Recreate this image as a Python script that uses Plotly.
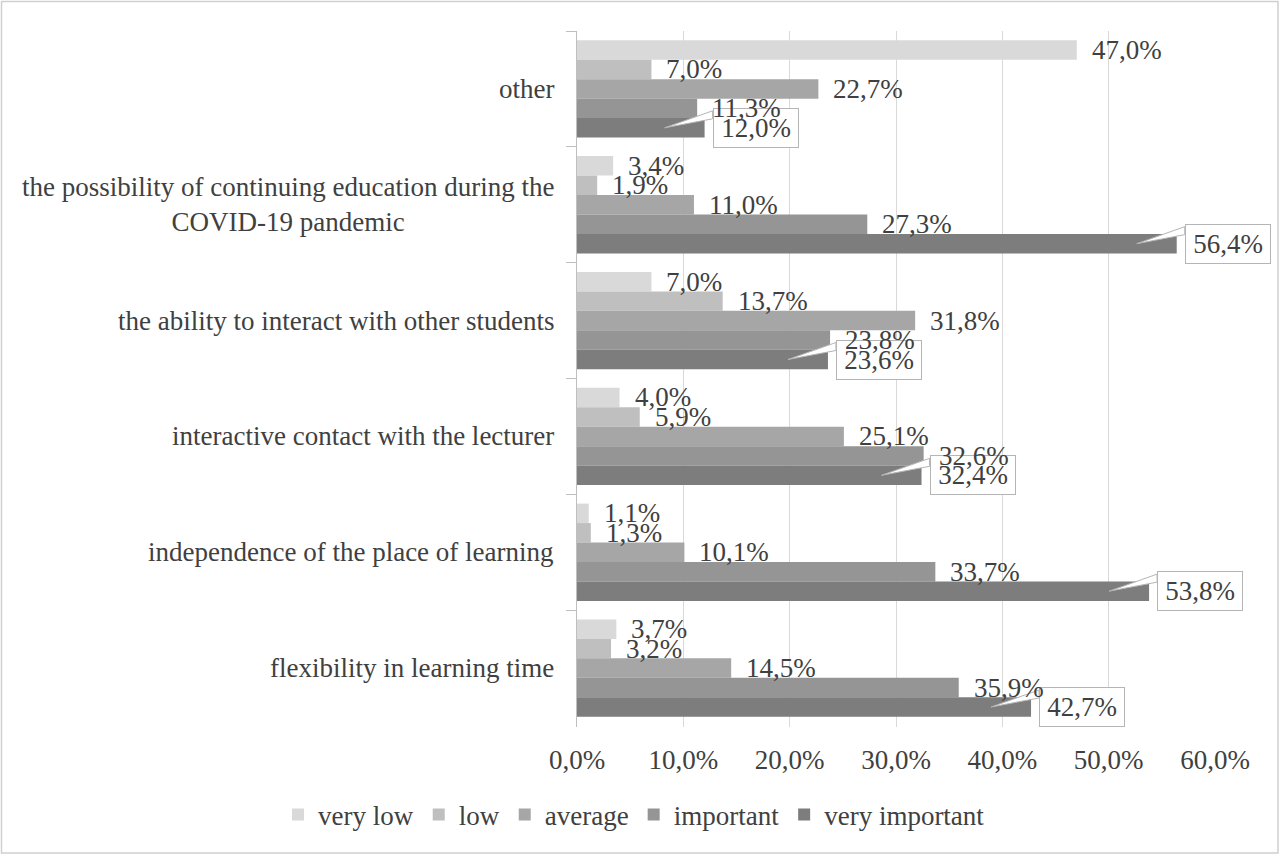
import plotly.graph_objects as go

categories = [
    "other",
    "the possibility of continuing education during the<br>COVID-19 pandemic",
    "the ability to interact with other students",
    "interactive contact with the lecturer",
    "independence of the place of learning",
    "flexibility in learning time",
]
series_names = ["very low", "low", "average", "important", "very important"]
very_low = [47.0, 3.4, 7.0, 4.0, 1.1, 3.7]
low = [7.0, 1.9, 13.7, 5.9, 1.3, 3.2]
average = [22.7, 11.0, 31.8, 25.1, 10.1, 14.5]
important = [11.3, 27.3, 23.8, 32.6, 33.7, 35.9]
very_important = [12.0, 56.4, 23.6, 32.4, 53.8, 42.7]
series_values = [very_low, low, average, important, very_important]
colors = ["#d9d9d9", "#bfbfbf", "#a6a6a6", "#959595", "#7d7d7d"]
tick_values = [0, 10, 20, 30, 40, 50, 60]
tick_labels = ["0,0%", "10,0%", "20,0%", "30,0%", "40,0%", "50,0%", "60,0%"]

W, H = 1280, 855
L, R, T, B = 577, 65, 31, 128
PW, PH = W - L - R, H - T - B
FONT = "Liberation Serif"
FS = 27
TXT = "#404040"
BARGAP = 0.16


def fmt(v):
    return f"{v:.1f}".replace(".", ",") + "%"


fig = go.Figure()
for name, vals, col in zip(series_names, series_values, colors):
    fig.add_trace(go.Bar(
        y=categories, x=vals, name=name, orientation="h",
        marker=dict(color=col, line=dict(width=0)), hoverinfo="skip",
    ))

w = 1 - BARGAP
n = len(series_names)
def offset(i):
    return -w / 2 + (i + 0.5) * w / n

annotations = []
shapes = []

# callouts for the last series
last = n - 1
for ci, v in enumerate(series_values[last]):
    yc = ci + offset(last)
    shapes.append(dict(
        type="path", xref="x", yref="y", xsizemode="pixel", ysizemode="pixel",
        xanchor=v, yanchor=yc, path="M -40,0 L 8,17 L 8,9 Z",
        fillcolor="white", line=dict(color="#b5b5b5", width=1), layer="above",
    ))
    annotations.append(dict(
        x=v, y=yc, xref="x", yref="y", xanchor="left", yanchor="middle",
        xshift=8, text=fmt(v), showarrow=False, bgcolor="white",
        bordercolor="#b5b5b5", borderwidth=1, borderpad=3, width=78, height=32,
        align="center", font=dict(family=FONT, size=FS, color=TXT),
    ))

# regular labels
for si in range(n - 1):
    for ci, v in enumerate(series_values[si]):
        annotations.append(dict(
            x=v, y=ci + offset(si), xref="x", yref="y", xanchor="left",
            yanchor="middle", xshift=13, text=fmt(v), showarrow=False,
            font=dict(family=FONT, size=FS, color=TXT),
        ))

# category labels
for ci, c in enumerate(categories):
    annotations.append(dict(
        x=0, y=ci, xref="paper", yref="y", xanchor="right", yanchor="middle",
        xshift=-21, text=c, showarrow=False, align="center",
        font=dict(family=FONT, size=FS, color=TXT),
    ))

# outer border
shapes.append(dict(
    type="rect", xref="paper", yref="paper",
    x0=(1.5 - L) / PW, x1=(W - 2 - L) / PW,
    y0=(H - B - (H - 2)) / PH, y1=(H - B - 1.5) / PH,
    line=dict(color="#d0d0d0", width=1.5), fillcolor="rgba(0,0,0,0)", layer="below",
))

fig.update_layout(
    width=W, height=H, margin=dict(l=L, r=R, t=T, b=B),
    barmode="group", bargap=BARGAP, bargroupgap=0,
    paper_bgcolor="white", plot_bgcolor="white",
    font=dict(family=FONT, size=FS, color=TXT),
    xaxis=dict(
        range=[0, 60], tickvals=tick_values, ticktext=tick_labels,
        showgrid=True, gridcolor="#d9d9d9", gridwidth=1, zeroline=False,
        showline=False, ticks="", ticklabelstandoff=14,
        tickfont=dict(family=FONT, size=FS, color=TXT), fixedrange=True,
    ),
    yaxis=dict(
        type="category", categoryorder="array", categoryarray=categories,
        autorange="reversed", tickson="boundaries", ticks="outside", ticklen=10,
        tickcolor="#bfbfbf", showticklabels=False, showline=True,
        linecolor="#bfbfbf", linewidth=1, showgrid=False, zeroline=False,
    ),
    legend=dict(
        orientation="h", xref="paper", yref="paper",
        x=(278 - L) / PW, xanchor="left", y=(H - B - 815) / PH, yanchor="middle",
        font=dict(family=FONT, size=FS, color=TXT), itemclick=False,
        traceorder="normal",
    ),
    annotations=annotations, shapes=shapes, showlegend=True,
)

fig.write_html("out.html", config={"displayModeBar": False},
               post_script="document.body.style.margin='0px';")
